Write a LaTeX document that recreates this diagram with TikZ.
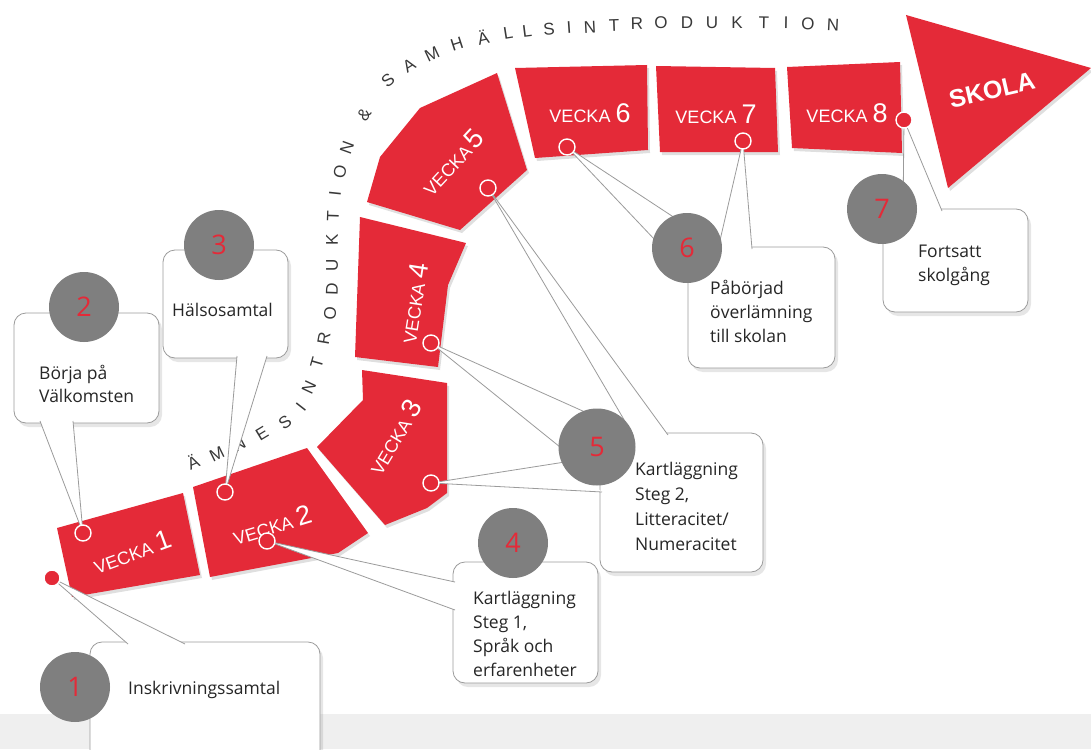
\documentclass[tikz,border=0pt]{standalone}
\usepackage{fontspec}
\setmainfont{Open Sans}
\newfontfamily\arialf{Liberation Sans}
\usetikzlibrary{shadows}
\definecolor{vred}{HTML}{E42A38}
\definecolor{dotgray}{HTML}{7F7F7F}
\definecolor{boxline}{HTML}{9B9B9B}
\definecolor{floorgray}{HTML}{EFEFEF}
\tikzset{
  seg/.style={fill=vred, drop shadow={shadow xshift=2pt, shadow yshift=-3pt, opacity=0.25}},
  wk/.style={text=white, font=\arialf\fontsize{18}{18}\selectfont, inner sep=0pt},
  callbox/.style={draw=boxline, fill=white, rounded corners=12pt, line width=0.8pt, drop shadow={shadow xshift=3pt, shadow yshift=-4pt, opacity=0.2}},
  tail/.style={fill=white},
  tailline/.style={draw=boxline, line width=0.8pt},
  pin/.style={circle, fill=vred, draw=white, line width=1.4pt, minimum size=16pt, inner sep=0pt},
  numdot/.style={circle, fill=dotgray, text=vred, minimum size=70pt, inner sep=0pt, font=\fontsize{27}{27}\selectfont},
  arcl/.style={text=black!78, font=\arialf\fontsize{17}{17}\selectfont, inner sep=0pt},
  calltext/.style={align=left, anchor=west, inner sep=0pt, text=black!85, font=\fontsize{17.5}{24}\selectfont}
}
\newcommand{\wknum}[1]{{\fontsize{27}{27}\selectfont #1}}
\begin{document}
\begin{tikzpicture}[x=1pt,y=-1pt]
  \useasboundingbox (0,0) rectangle (1091,749);
  \fill[floorgray] (0,714) rectangle (1091,749);

  \foreach \x/\y/\a/\c in {193/462/24/Ä, 217/454/26/M, 239/444/28/N, 262/434/31/E, 285/422/36/S,
      301/407/52/I, 309/387/65/N, 317/363/74/T, 324/338/80/R, 330/313/85/O, 332/289/88/D,
      332/265/90/U, 332/240/90/K, 333/216/88/T, 335/194/84/I, 340/172/78/O, 347/148/70/N,
      364/115/57/\&, 388/80/40/S, 409/66/32/A, 432/54/25/M, 457/44/18/H, 483/37/13/Ä,
      508/33/9/L, 527/31/7/L, 549/29/5/S, 569/28/4/I, 590/27/3/N, 614/25/2/T, 637/24/1/R,
      661/23/0/O, 687/23/0/D, 712/23/0/U, 737/23/0/K, 764/23/-1/T, 786/23/-1/I, 808/24/-2/O, 833/25/-3/N}
    \node[arcl, rotate=\a] (l\x) at (\x,\y) {\c};

  \fill[seg] (57,528) -- (183,493) -- (200,575) -- (72,597) -- cycle;
  \fill[seg] (193,487) -- (307,448) -- (368,533) -- (338,553) -- (210,577) -- cycle;
  \fill[seg] (362,370) -- (447,383) -- (447,493) -- (427,508) -- (385,525) -- (317,447) -- (363,400) -- cycle;
  \fill[seg] (360,217) -- (466,243) -- (448,285) -- (438,367) -- (355,357) -- cycle;
  \fill[seg] (420,108) -- (497,73) -- (527,170) -- (460,230) -- (367,202) -- (380,157) -- cycle;
  \fill[seg] (515,68) -- (647,65) -- (648,150) -- (535,158) -- cycle;
  \fill[seg] (656,66) -- (775,68) -- (778,152) -- (660,152) -- cycle;
  \fill[seg] (787,67) -- (900,62) -- (902,153) -- (792,148) -- cycle;
  \fill[seg] (906,15) -- (1091,68) -- (948,188) -- cycle;

  \node[wk, rotate=20] (w1) at (132,552) {VECKA \wknum{1}};
  \node[wk, rotate=17] (w2) at (272,525) {VECKA \wknum{2}};
  \node[wk, rotate=59] (w3) at (394,437) {VECKA \wknum{3}};
  \node[wk, rotate=81] (w4) at (413,303) {VECKA \wknum{4}};
  \node[wk, rotate=47] (w5) at (452,162) {VECKA\,\wknum{5}};
  \node[wk] (w6) at (590,113) {VECKA \wknum{6}};
  \node[wk] (w7) at (716,114) {VECKA \wknum{7}};
  \node[wk] (w8) at (847,113) {VECKA \wknum{8}};
  \node[text=white, font=\arialf\bfseries\fontsize{25}{25}\selectfont, rotate=13] (skola) at (992,90) {SKOLA};

  \node[callbox, minimum width=230pt, minimum height=130pt] (b1) at (205,707) {};
  \node[callbox, minimum width=145pt, minimum height=110pt] (b2) at (86.5,368) {};
  \node[callbox, minimum width=125pt, minimum height=108pt] (b3) at (225.5,304) {};
  \node[callbox, minimum width=145pt, minimum height=121pt] (b4) at (525.5,622.5) {};
  \node[callbox, minimum width=163pt, minimum height=139pt] (b5) at (681.5,502.5) {};
  \node[callbox, minimum width=147pt, minimum height=121pt] (b6) at (761.5,307.5) {};
  \node[callbox, minimum width=145pt, minimum height=103pt] (b7) at (955.5,260.5) {};

  \coordinate (m1) at (52,578);
  \coordinate (m2) at (83,533);
  \coordinate (m3) at (225,492);
  \coordinate (m4) at (267,541);
  \coordinate (m5a) at (431,483);
  \coordinate (m5b) at (431,343);
  \coordinate (m5c) at (488,188);
  \coordinate (m6a) at (567,147);
  \coordinate (m6b) at (743,141);
  \coordinate (m7) at (904,120);

  \coordinate (t1a) at (128,644); \coordinate (t1b) at (185,644);
  \coordinate (t2a) at (40,421);  \coordinate (t2b) at (73,421);
  \coordinate (t3a) at (237,356); \coordinate (t3b) at (267,356);
  \coordinate (t4a) at (455,582); \coordinate (t4b) at (455,610);
  \coordinate (t5a) at (565,462); \coordinate (t5b) at (602,492);
  \coordinate (t5c) at (585,412); \coordinate (t5d) at (560,447);
  \coordinate (t5e) at (633,435); \coordinate (t5f) at (668,435);
  \coordinate (t6a) at (675,218); \coordinate (t6b) at (655,240);
  \coordinate (t6c) at (718,249); \coordinate (t6d) at (752,249);
  \coordinate (t7a) at (903,212); \coordinate (t7b) at (942,211);

  \fill[tail] (m1) -- (t1a) -- (t1b) -- cycle;   \draw[tailline] (t1a) -- (m1) -- (t1b);
  \fill[tail] (m2) -- (t2a) -- (t2b) -- cycle;   \draw[tailline] (t2a) -- (m2) -- (t2b);
  \fill[tail] (m3) -- (t3a) -- (t3b) -- cycle;   \draw[tailline] (t3a) -- (m3) -- (t3b);
  \fill[tail] (m4) -- (t4a) -- (t4b) -- cycle;   \draw[tailline] (t4a) -- (m4) -- (t4b);
  \fill[tail] (m5a) -- (t5a) -- (t5b) -- cycle;  \draw[tailline] (t5a) -- (m5a) -- (t5b);
  \fill[tail] (m5b) -- (t5c) -- (t5d) -- cycle;  \draw[tailline] (t5c) -- (m5b) -- (t5d);
  \fill[tail] (m5c) -- (t5e) -- (t5f) -- cycle;  \draw[tailline] (t5e) -- (m5c) -- (t5f);
  \fill[tail] (m6a) -- (t6a) -- (t6b) -- cycle;  \draw[tailline] (t6a) -- (m6a) -- (t6b);
  \fill[tail] (m6b) -- (t6c) -- (t6d) -- cycle;  \draw[tailline] (t6c) -- (m6b) -- (t6d);
  \fill[tail] (m7) -- (t7a) -- (t7b) -- cycle;   \draw[tailline] (t7a) -- (m7) -- (t7b);

  \node[pin] (p1) at (m1) {};
  \node[pin] (p2) at (m2) {};
  \node[pin] (p3) at (m3) {};
  \node[pin] (p4) at (m4) {};
  \node[pin] (p5a) at (m5a) {};
  \node[pin] (p5b) at (m5b) {};
  \node[pin] (p5c) at (m5c) {};
  \node[pin] (p6a) at (m6a) {};
  \node[pin] (p6b) at (m6b) {};
  \node[pin] (p7) at (m7) {};

  \node[numdot] (n1) at (75,687) {1};
  \node[numdot] (n2) at (84,307) {2};
  \node[numdot] (n3) at (219,245) {3};
  \node[numdot] (n4) at (513,543) {4};
  \node[numdot, minimum size=77pt] (n5) at (597,447) {5};
  \node[numdot] (n6) at (687,248) {6};
  \node[numdot] (n7) at (882,209) {7};

  \node[calltext] (c1) at (128,690) {Inskrivningssamtal};
  \node[calltext, font=\fontsize{17.5}{23}\selectfont] (c2) at (39,384) {Börja på\\Välkomsten};
  \node[calltext] (c3) at (172,310) {Hälsosamtal};
  \node[calltext] (c4) at (473,634) {Kartläggning\\Steg 1,\\Språk och\\erfarenheter};
  \node[calltext, font=\fontsize{17.5}{25}\selectfont] (c5) at (635,506) {Kartläggning\\Steg 2,\\Litteracitet/\\Numeracitet};
  \node[calltext] (c6) at (710,311) {Påbörjad\\överlämning\\till skolan};
  \node[calltext] (c7) at (918,265) {Fortsatt\\skolgång};
\end{tikzpicture}
\end{document}
